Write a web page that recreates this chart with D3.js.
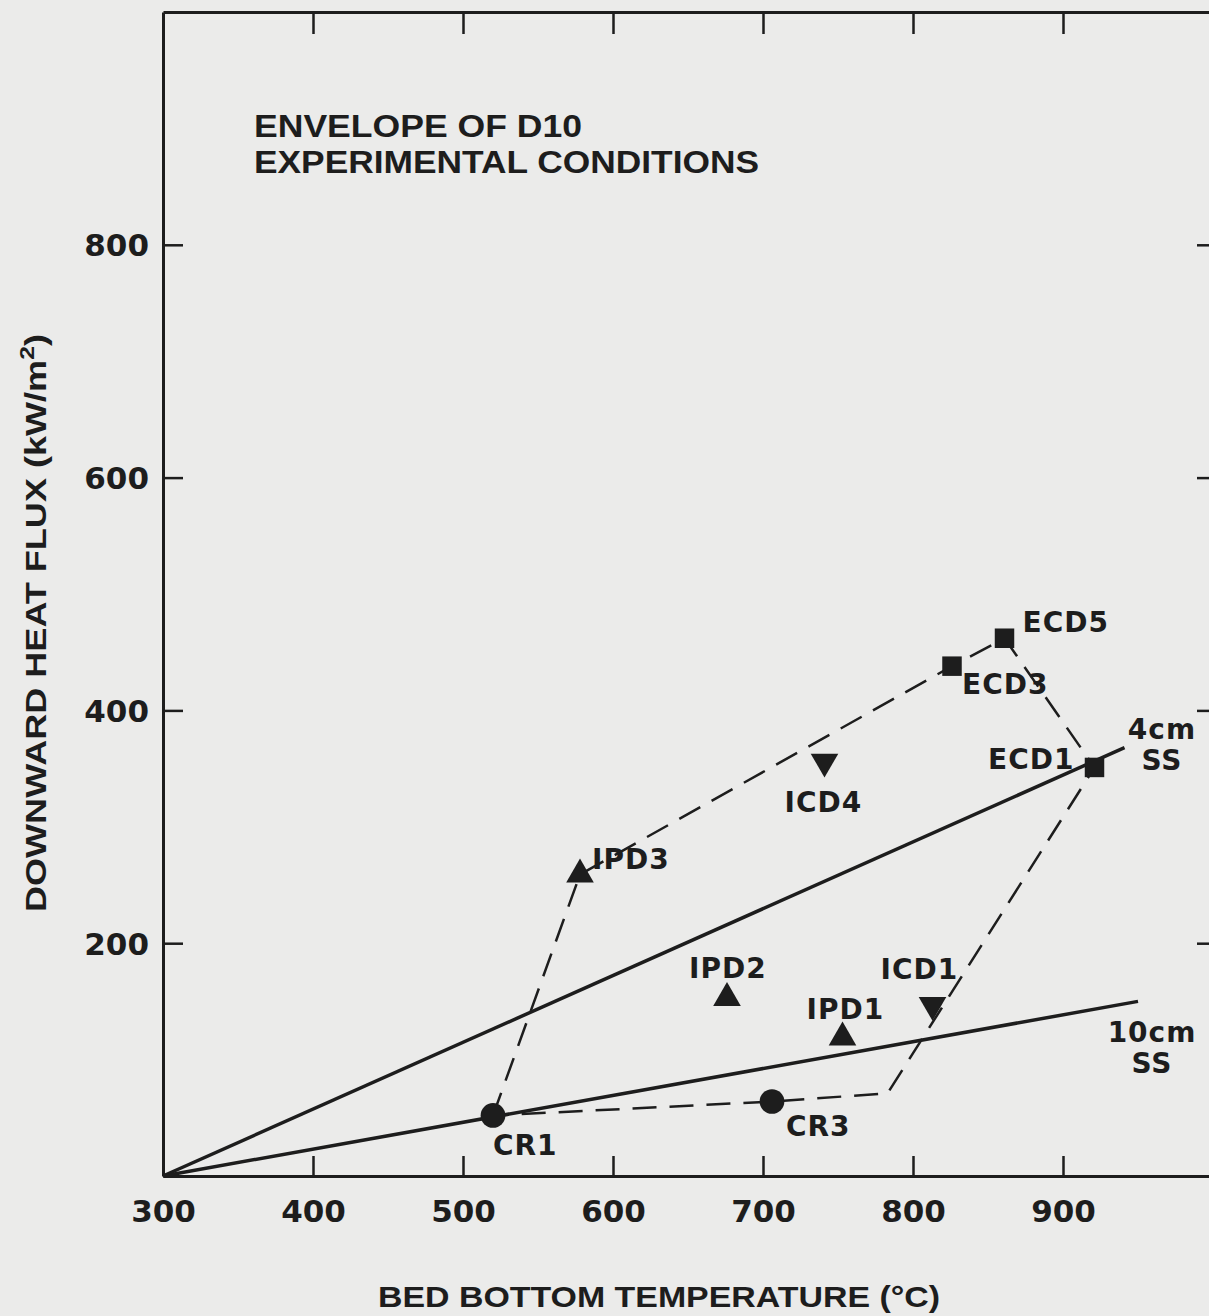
<!DOCTYPE html>
<html lang="en">
  <head>
    <meta charset="UTF-8" />
    <title>Envelope of D10 experimental conditions</title>
    <script src="https://d3js.org/d3.v7.min.js"></script>
    <style>
      body { margin: 0; background: #ebebea; }
      text { fill: #1d1d1d; }
    </style>
  </head>
  <body>
    <svg width="1209" height="1316"></svg>

    <script>
      // axis ticks
      const tempTicks = [300, 400, 500, 600, 700, 800, 900];
      const fluxTicks = [200, 400, 600, 800];

      // test cases
      const caseNames = ["CR1", "CR3", "IPD1", "IPD2", "IPD3", "ICD1", "ICD4", "ECD1", "ECD3", "ECD5"];
      const caseTemp  = [520, 706, 753, 676, 578, 813, 741, 921, 826, 861];
      const caseFlux  = [52, 64, 119, 153, 259, 147, 356, 351, 438, 462];
      const caseShape = ["circle", "circle", "up", "up", "up", "down", "down", "square", "square", "square"];

      // dashed envelope (closed)
      const envTemp = [520, 578, 826, 861, 921, 783, 706, 520];
      const envFlux = [52, 259, 438, 462, 351, 71, 64, 52];

      // stainless steel plate lines
      const ss4Temp = [300, 941], ss4Flux = [0, 368];
      const ss10Temp = [300, 950], ss10Flux = [0, 150];

      const ink = "#1d1d1d";
      let svg = d3.select("svg");

      let x = d3.scaleLinear().domain([300, 1000]).range([163, 1213]);
      let y = d3.scaleLinear().domain([0, 1000]).range([1176, 12]);

      // frame + inward ticks
      let gB = svg.append("g").attr("transform", "translate(0,1176)")
        .call(d3.axisBottom(x).tickValues(tempTicks).tickSizeInner(-20).tickSizeOuter(0).tickPadding(24));
      let gT = svg.append("g").attr("transform", "translate(0,12)")
        .call(d3.axisTop(x).tickValues(tempTicks.slice(1)).tickSizeInner(-22).tickSizeOuter(0).tickFormat(""));
      let gL = svg.append("g").attr("transform", "translate(163,0)")
        .call(d3.axisLeft(y).tickValues(fluxTicks).tickSizeInner(-20).tickSizeOuter(0).tickPadding(14));
      let gR = svg.append("g").attr("transform", "translate(1213,0)")
        .call(d3.axisRight(y).tickValues(fluxTicks).tickSizeInner(-16).tickSizeOuter(0).tickFormat(""));

      [gB, gT, gL, gR].forEach(function (g) {
        g.select(".domain").attr("stroke", ink).attr("stroke-width", 3);
        g.selectAll(".tick line").attr("stroke", ink).attr("stroke-width", 2.5);
        g.selectAll(".tick text")
          .attr("fill", ink)
          .attr("font-family", "DejaVu Sans")
          .attr("font-weight", "bold")
          .attr("font-size", 31);
      });
      gB.selectAll(".tick line").filter(function (d) { return d === 300; }).remove();
      gB.selectAll(".tick text").attr("dy", "0.72em");
      gL.selectAll(".tick text").attr("dy", "0.36em");

      // solid SS lines
      const line = d3.line().x(function (d) { return x(d[0]); }).y(function (d) { return y(d[1]); });
      [[ss4Temp, ss4Flux], [ss10Temp, ss10Flux]].forEach(function (s) {
        svg.append("path")
          .attr("d", line(d3.zip(s[0], s[1])))
          .attr("fill", "none")
          .attr("stroke", ink)
          .attr("stroke-width", 3.5);
      });

      // dashed envelope
      svg.append("path")
        .attr("d", line(d3.zip(envTemp, envFlux)))
        .attr("fill", "none")
        .attr("stroke", ink)
        .attr("stroke-width", 2.5)
        .attr("stroke-dasharray", "24,13")
        .attr("stroke-linejoin", "round");

      // markers
      const symbolFor = {
        circle: d3.symbol().type(d3.symbolCircle).size(480),
        square: d3.symbol().type(d3.symbolSquare).size(380),
        up: d3.symbol().type(d3.symbolTriangle).size(330),
        down: d3.symbol().type(d3.symbolTriangle).size(330)
      };
      svg.append("g").selectAll("path")
        .data(caseNames)
        .join("path")
        .attr("d", function (d, i) { return symbolFor[caseShape[i]](); })
        .attr("transform", function (d, i) {
          let t = "translate(" + x(caseTemp[i]) + "," + y(caseFlux[i]) + ")";
          return caseShape[i] === "down" ? t + " rotate(180)" : t;
        })
        .attr("fill", ink);

      // point labels: offsets from marker (layout only)
      const labelPos = {
        CR1: [0, 40, "start"], CR3: [14, 34, "start"], IPD1: [-36, -18, "start"],
        IPD2: [-38, -20, "start"], IPD3: [12, -6, "start"], ICD1: [-52, -26, "start"],
        ICD4: [-40, 50, "start"], ECD1: [-20, 2, "end"], ECD3: [10, 28, "start"],
        ECD5: [18, -6, "start"]
      };
      svg.append("g").selectAll("text")
        .data(caseNames)
        .join("text")
        .attr("x", function (d, i) { return x(caseTemp[i]) + labelPos[d][0]; })
        .attr("y", function (d, i) { return y(caseFlux[i]) + labelPos[d][1]; })
        .attr("text-anchor", function (d) { return labelPos[d][2]; })
        .attr("font-family", "DejaVu Sans")
        .attr("font-weight", "bold")
        .attr("font-size", 28)
        .attr("letter-spacing", 1)
        .text(function (d) { return d; });

      // line labels
      function twoLine(cx, cy, a, b) {
        let t = svg.append("text")
          .attr("font-family", "DejaVu Sans").attr("font-weight", "bold")
          .attr("font-size", 28).attr("text-anchor", "middle").attr("letter-spacing", 1);
        t.append("tspan").attr("x", cx).attr("y", cy).text(a);
        t.append("tspan").attr("x", cx).attr("y", cy + 31).text(b);
      }
      twoLine(1162, 739, "4cm", "SS");
      twoLine(1152, 1042, "10cm", "SS");

      // title block
      const cond = "'Liberation Sans Narrow', 'Liberation Sans', Arial, sans-serif";
      svg.append("text").attr("x", 254).attr("y", 137)
        .attr("font-family", cond).attr("font-weight", "bold").attr("font-size", 31)
        .attr("textLength", 328).attr("lengthAdjust", "spacingAndGlyphs")
        .text("ENVELOPE OF D10");
      svg.append("text").attr("x", 254).attr("y", 173)
        .attr("font-family", cond).attr("font-weight", "bold").attr("font-size", 31)
        .attr("textLength", 505).attr("lengthAdjust", "spacingAndGlyphs")
        .text("EXPERIMENTAL CONDITIONS");

      // axis titles
      svg.append("text").attr("x", 659).attr("y", 1307)
        .attr("text-anchor", "middle")
        .attr("font-family", cond).attr("font-weight", "bold").attr("font-size", 30)
        .attr("textLength", 562).attr("lengthAdjust", "spacingAndGlyphs")
        .text("BED BOTTOM TEMPERATURE (°C)");

      let yl = svg.append("text")
        .attr("transform", "translate(46,623) rotate(-90)")
        .attr("text-anchor", "middle")
        .attr("font-family", "'Liberation Sans', Arial, sans-serif")
        .attr("font-weight", "bold").attr("font-size", 29)
        .attr("textLength", 578).attr("lengthAdjust", "spacingAndGlyphs");
      yl.append("tspan").text("DOWNWARD HEAT FLUX (kW/m");
      yl.append("tspan").attr("dy", -12).attr("font-size", 20).text("2");
      yl.append("tspan").attr("dy", 12).text(")");
    </script>
  </body>
</html>
